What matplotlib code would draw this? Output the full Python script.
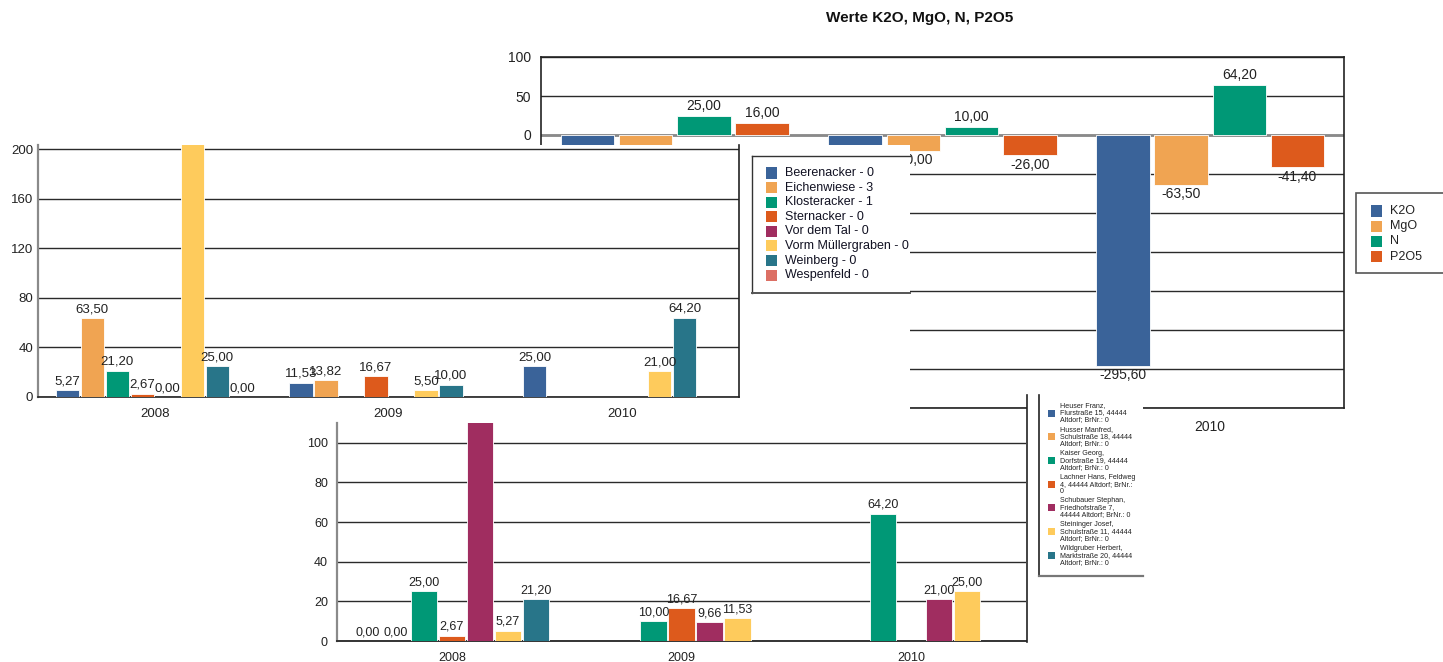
import numpy as np
import matplotlib
matplotlib.use("Agg")
import matplotlib.pyplot as plt
from matplotlib.patches import Rectangle
from matplotlib.lines import Line2D
from matplotlib import font_manager

nan = np.nan

# ---------------- data ----------------
years = ["2008", "2009", "2010"]

# Chart A: Werte K2O, MgO, N, P2O5
nutrients = ["K2O", "MgO", "N", "P2O5"]
k2o = [-15.0, -15.0, -295.60]
mgo = [-15.0, -20.00, -63.50]
n_val = [25.00, 10.00, 64.20]
p2o5 = [16.00, -26.00, -41.40]
nutrient_colors = ["#3a6399", "#f0a452", "#009876", "#dd5a1c"]

# Chart B: fields
fields = ["Beerenacker - 0", "Eichenwiese - 3", "Klosteracker - 1", "Sternacker - 0",
          "Vor dem Tal - 0", "Vorm Müllergraben - 0", "Weinberg - 0", "Wespenfeld - 0"]
beerenacker = [5.27, 11.53, 25.00]
eichenwiese = [63.50, 13.82, nan]
klosteracker = [21.20, nan, nan]
sternacker = [2.67, 16.67, nan]
vor_dem_tal = [0.00, nan, nan]
vorm_muellergraben = [240.0, 5.50, 21.00]   # 2008 runs off the visible range
weinberg = [25.00, 10.00, 64.20]
wespenfeld = [0.00, nan, nan]
field_colors = ["#3a6399", "#f0a452", "#009876", "#dd5a1c",
                "#a02d60", "#fecb5c", "#287589", "#dc6f64"]

# Chart C: owners
owners = ["Heuser Franz,\nFlurstraße 15, 44444\nAltdorf; BrNr.: 0",
          "Husser Manfred,\nSchulstraße 18, 44444\nAltdorf; BrNr.: 0",
          "Kaiser Georg,\nDorfstraße 19, 44444\nAltdorf; BrNr.: 0",
          "Lachner Hans, Feldweg\n4, 44444 Altdorf; BrNr.:\n0",
          "Schubauer Stephan,\nFriedhofstraße 7,\n44444 Altdorf; BrNr.: 0",
          "Steininger Josef,\nSchulstraße 11, 44444\nAltdorf; BrNr.: 0",
          "Wildgruber Herbert,\nMarktstraße 20, 44444\nAltdorf; BrNr.: 0"]
heuser = [0.00, nan, nan]
husser = [0.00, nan, nan]
kaiser = [25.00, 10.00, 64.20]
lachner = [2.67, 16.67, nan]
schubauer = [150.0, 9.66, 21.00]   # 2008 runs off the visible range
steininger = [5.27, 11.53, 25.00]
wildgruber = [21.20, nan, nan]
owner_colors = ["#3a6399", "#f0a452", "#009876", "#dd5a1c",
                "#a02d60", "#fecb5c", "#287589"]

# ---------------- fonts ----------------
def has_font(name):
    try:
        font_manager.findfont(name, fallback_to_default=False)
        return True
    except Exception:
        return False

REG = ["Liberation Sans", "DejaVu Sans"]
if has_font("Liberation Sans Narrow"):
    NAR = ["Liberation Sans Narrow", "Liberation Sans", "DejaVu Sans"]
    NSIZE = 10
else:
    NAR = REG
    NSIZE = 9
plt.rcParams["font.family"] = REG
TXT = "#222222"

# ---------------- figure helpers ----------------
W, H = 1443, 662
fig = plt.figure(figsize=(W / 100, H / 100), dpi=100)
fig.patch.set_facecolor("white")

def ax_at(x0, y0, x1, y1, z):
    ax = fig.add_axes([x0 / W, 1 - y1 / H, (x1 - x0) / W, (y1 - y0) / H])
    ax.set_zorder(z)
    return ax

def frect(x0, y0, x1, y1, z, **kw):
    r = Rectangle((x0 / W, 1 - y1 / H), (x1 - x0) / W, (y1 - y0) / H,
                  transform=fig.transFigure, zorder=z, **kw)
    fig.add_artist(r)
    return r

def fline(xs, ys, z, **kw):
    fig.add_artist(Line2D([x / W for x in xs], [1 - y / H for y in ys],
                          transform=fig.transFigure, zorder=z, **kw))

def ftext(x, y, s, z, **kw):
    fig.text(x / W, 1 - y / H, s, zorder=z, **kw)

def fmt(v):
    return f"{v:.2f}".replace(".", ",")

def grouped(ax, series, colors, slot, width, top, lab_kw, off_pt=2):
    x = np.arange(len(years))
    n = len(series)
    for i, (vals, c) in enumerate(zip(series, colors)):
        vals = np.array(vals, dtype=float)
        xs = x + (i - (n - 1) / 2) * slot
        ax.bar(xs, vals, width, color=c, edgecolor="white", linewidth=0.6, zorder=3)
        for xi, v in zip(xs, vals):
            if np.isnan(v) or v > top:
                continue
            if v < 0:
                ax.annotate(fmt(v), (xi, v), xytext=(0, -off_pt), textcoords="offset points",
                            ha="center", va="top", zorder=4, **lab_kw)
            else:
                ax.annotate(fmt(v), (xi, v), xytext=(0, off_pt), textcoords="offset points",
                            ha="center", va="bottom", zorder=4, **lab_kw)

def style(ax, ylim, yticks, ypad, xpad, fam, size):
    ax.set_xlim(-0.5, 2.5)
    ax.set_ylim(*ylim)
    ax.set_yticks(yticks)
    ax.set_xticks(range(len(years)))
    ax.set_xticklabels(years)
    ax.tick_params(axis="both", length=0, colors=TXT, labelsize=size)
    ax.tick_params(axis="y", pad=ypad)
    ax.tick_params(axis="x", pad=xpad)
    for lab in ax.get_xticklabels() + ax.get_yticklabels():
        lab.set_family(fam)
    ax.yaxis.grid(True, color="#2a2a2a", linewidth=1.0)
    ax.set_axisbelow(True)
    ax.set_facecolor("white")

# ---------------- Chart A (top right) ----------------
axA = ax_at(541, 57, 1344, 408, 1)
grouped(axA, [k2o, mgo, n_val, p2o5], nutrient_colors, 0.2175, 0.2, 1e9,
        dict(fontsize=10, color=TXT, family=REG))
style(axA, (-350, 100), np.arange(-350, 101, 50), 7, 8.5, REG, 10)
axA.axhline(0, color="#8a8a8a", linewidth=2.0, zorder=2)
for s in axA.spines.values():
    s.set_color("#222222")
    s.set_linewidth(1.2)
ftext(920, 18, "Werte K2O, MgO, N, P2O5", 10, ha="center", va="center",
      fontsize=11, fontweight="bold", color="#111111", family=REG)

# legend of chart A
frect(1356, 193, 1460, 273, 8, facecolor="white", edgecolor="#555555", linewidth=1.2)
for i, (name, c) in enumerate(zip(nutrients, nutrient_colors)):
    yc = 211 + i * 15.2
    frect(1371, yc - 5.5, 1382, yc + 5.5, 9, facecolor=c, edgecolor="none")
    ftext(1390, yc, name, 9, ha="left", va="center", fontsize=9, color=TXT, family=REG)

# ---------------- Chart C (bottom) ----------------
frect(313, 416, 1143, 662, 2, facecolor="white", edgecolor="none")
frect(1027, 395, 1143, 416, 2, facecolor="white", edgecolor="none")
axC = ax_at(337, 423, 1026, 641, 3)
grouped(axC, [heuser, husser, kaiser, lachner, schubauer, steininger, wildgruber],
        owner_colors, 0.1219, 0.115, 110, dict(fontsize=NSIZE, color=TXT, family=NAR))
style(axC, (0, 110), np.arange(0, 101, 20), 6.5, 8, NAR, NSIZE)
axC.spines["top"].set_visible(False)
axC.spines["left"].set_color("#8a8a8a")
axC.spines["left"].set_linewidth(1.6)
axC.spines["bottom"].set_color("#333333")
axC.spines["bottom"].set_linewidth(1.4)
axC.spines["right"].set_visible(False)
fline([1026.5, 1026.5], [395, 641.5], 4, color="#222222", linewidth=1.2)

# legend of chart C
fline([1038.5, 1038.5], [395, 575.5], 4, color="#222222", linewidth=1.2)
fline([1038.5, 1143], [575.5, 575.5], 4, color="#777777", linewidth=1.6)
for i, (name, c) in enumerate(zip(owners, owner_colors)):
    yc = 413 + i * 23.7
    frect(1048, yc - 3.5, 1055, yc + 3.5, 4, facecolor=c, edgecolor="none")
    ftext(1060, yc, name, 4, ha="left", va="center", fontsize=5.1, linespacing=1.0,
          color=TXT, family=REG)

# ---------------- Chart B (left) ----------------
frect(0, 145, 910, 420, 5, facecolor="white", edgecolor="none")
axB = ax_at(38, 145, 739, 397, 6)
grouped(axB, [beerenacker, eichenwiese, klosteracker, sternacker, vor_dem_tal,
              vorm_muellergraben, weinberg, wespenfeld],
        field_colors, 0.107, 0.101, 203, dict(fontsize=NSIZE + 0.5, color=TXT, family=NAR))
style(axB, (0, 203.6), np.arange(0, 201, 40), 3.5, 8, NAR, NSIZE + 0.5)
axB.spines["top"].set_visible(False)
axB.spines["left"].set_color("#8a8a8a")
axB.spines["left"].set_linewidth(1.6)
axB.spines["right"].set_color("#222222")
axB.spines["right"].set_linewidth(1.2)
axB.spines["bottom"].set_color("#222222")
axB.spines["bottom"].set_linewidth(1.2)

# legend of chart B
frect(751, 155, 910, 293, 7, facecolor="white", edgecolor="none")
fline([751.5, 910], [155.5, 155.5], 8, color="#333333", linewidth=1.0)
fline([751.5, 751.5], [155.5, 293.5], 8, color="#333333", linewidth=1.0)
fline([751.5, 910], [293.5, 293.5], 8, color="#555555", linewidth=1.4)
for i, (name, c) in enumerate(zip(fields, field_colors)):
    yc = 173 + i * 14.6
    frect(766, yc - 5.5, 777, yc + 5.5, 8, facecolor=c, edgecolor="none")
    ftext(785, yc, name, 8, ha="left", va="center", fontsize=9, color="#111122", family=REG)

fig.savefig("out.png", dpi=100, facecolor="white")
